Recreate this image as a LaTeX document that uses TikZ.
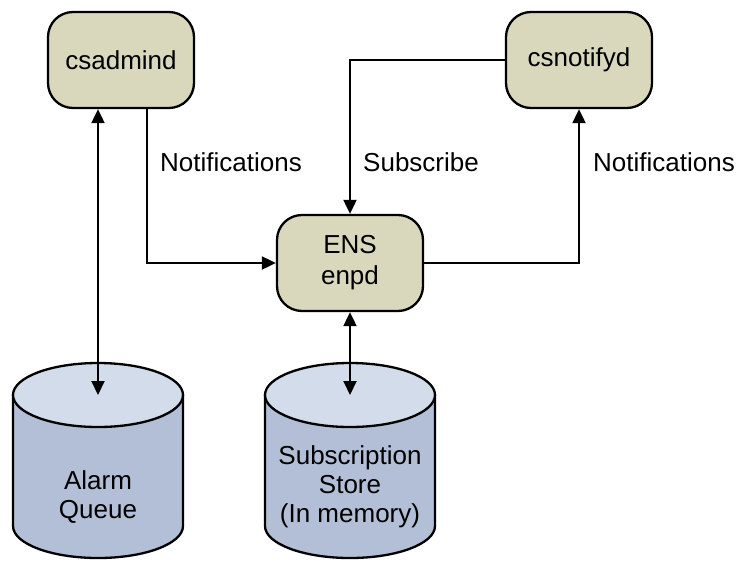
\documentclass[tikz,border=0pt]{standalone}
\usepackage{fontspec}
\setmainfont{Liberation Sans}
\usetikzlibrary{arrows.meta}
\definecolor{procfill}{HTML}{D9D8BC}
\definecolor{dbbody}{HTML}{B3BFD6}
\definecolor{dbtop}{HTML}{D3DCEA}
\tikzset{
  proc/.style={draw, line width=2.3pt, fill=procfill, rounded corners=25pt,
    minimum width=146pt, minimum height=96pt, align=center,
    font=\fontsize{26}{31}\selectfont, inner sep=0pt},
  link/.style={line width=2pt, -{Triangle[length=14pt,width=13pt]}},
  duplex/.style={line width=2pt, {Triangle[length=14pt,width=13pt]}-{Triangle[length=14pt,width=13pt]}},
  lbl/.style={font=\fontsize{26}{31}\selectfont, inner sep=0pt},
  dbtext/.style={align=center, font=\fontsize{26}{29}\selectfont, inner sep=0pt},
  dbline/.style={line width=2.3pt},
}
\begin{document}
\begin{tikzpicture}[x=1pt,y=-1pt]
\useasboundingbox (0,0) rectangle (738,565);

% processes
\node[proc] (csadmind) at (121,60) {csadmind};
\node[proc] (csnotifyd) at (579,60) {csnotifyd};
\node[proc] (ens) at (350,263) {ENS\\enpd};

% storage cylinders (centre x; top ellipse at y=395, bottom at y=526)
\foreach \cx/\nm in {98/aq, 350/ss}{
  \filldraw[dbline, fill=dbbody]
    (\cx-85,395) -- (\cx-85,526) arc[start angle=180, end angle=0, x radius=85, y radius=32]
    -- (\cx+85,395) -- cycle;
  \filldraw[dbline, fill=dbtop] (\cx,395) ellipse[x radius=85, y radius=32];
  \coordinate (\nm top) at (\cx,395);
}
\node[dbtext] (aq) at (98,497) {Alarm\\Queue};
\node[dbtext] (ss) at (350,487) {Subscription\\Store\\(In memory)};

% connectors
\coordinate (csout) at ([xshift=26pt]csadmind.south);
\draw[duplex] (csadmind.south -| aqtop) -- (aqtop);
\draw[link] (csout) |- (ens.west);
\draw[link] (csnotifyd.west) -| (ens.north);
\draw[link] (ens.east) -| (csnotifyd.south);
\draw[duplex] (ens.south) -- (sstop);

% labels
\node[lbl, anchor=west] (n1) at (160,162) {Notifications};
\node[lbl, anchor=west] (sub) at (363,162) {Subscribe};
\node[lbl, anchor=west] (n2) at (593,162) {Notifications};
\end{tikzpicture}
\end{document}
